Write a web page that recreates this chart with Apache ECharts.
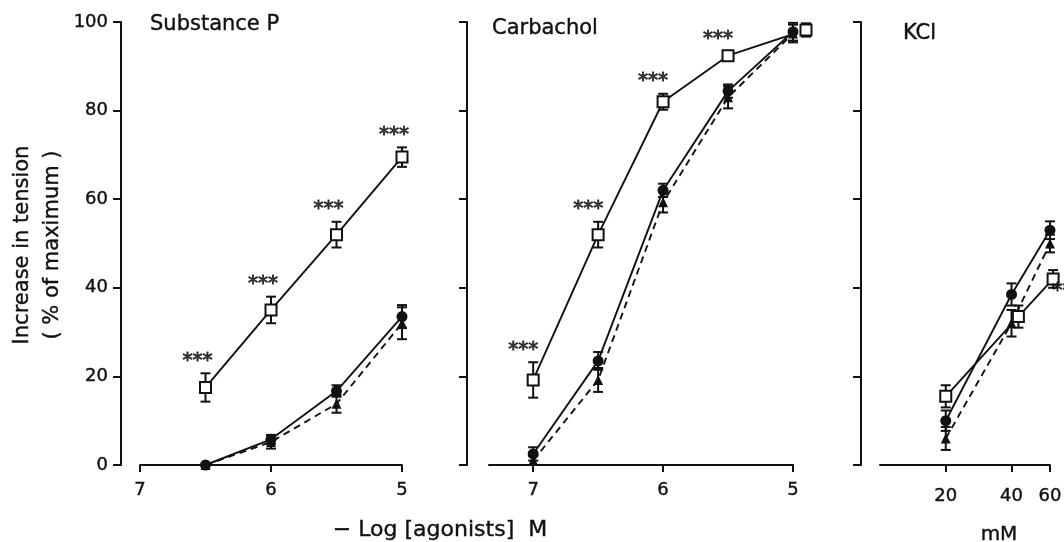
<!DOCTYPE html>
<html>
<head>
<meta charset="utf-8">
<script src="https://cdn.jsdelivr.net/npm/echarts@6/dist/echarts.min.js"></script>
<style>
  html, body { margin: 0; padding: 0; background: #fff; }
  #chart { width: 1064px; height: 542px; }
</style>
</head>
<body>
<div id="chart"></div>
<script>
// Substance P  (-log M)
var spX = [6.5, 6, 5.5, 5];
var spSquare = [17.5, 35, 52, 69.5];
var spSquareErr = [3.2, 3, 2.9, 2.2];
var spCircle = [0, 5.8, 16.7, 33.5];
var spCircleErr = [0, 1, 1.3, 2.6];
var spTriangle = [0, 5.2, 13.8, 32];
var spTriangleErr = [0, 1.5, 2, 3.6];
var spSig = ['***', '***', '***', '***'];

// Carbachol  (-log M), last open square sits a little to the right
var cbX = [7, 6.5, 6, 5.5, 5];
var cbSquareX = [7, 6.5, 6, 5.5, 4.9];
var cbSquare = [19.2, 52, 82, 92.4, 98.2];
var cbSquareErr = [4, 2.9, 1.8, 1, 1.5];
var cbCircle = [2.5, 23.5, 62, 84.4, 97.8];
var cbCircleErr = [1.5, 2, 1.5, 1.5, 2];
var cbTriangle = [1, 19.2, 59.3, 83, 97.4];
var cbTriangleErr = [1, 2.7, 2.3, 2.5, 2];
var cbSig = ['***', '***', '***', '***', ''];

// KCl  (mM)
var kclX = [20, 40, 60];
var kclSquareX = [20, 43, 62];
var kclSquare = [15.5, 33.5, 42];
var kclSquareErr = [2.5, 2.5, 2];
var kclCircle = [10, 38.5, 53];
var kclCircleErr = [2.3, 2.5, 2];
var kclTriangle = [6, 32, 50];
var kclTriangleErr = [2.6, 3, 2];
var kclSig = ['', '', '**'];

var logTicks = [7, 6, 5];
var mmTicks = [20, 40, 60];

var INK = '#111';
var FONT = 'DejaVu Sans';

function pts(xs, ys) {
    return xs.map(function (x, i) { return [x, ys[i]]; });
}
function bars(xs, ys, es) {
    return xs.map(function (x, i) { return [x, ys[i] - es[i], ys[i] + es[i]]; });
}

// error bar drawn through the axes' own coord()
function renderErr(params, api) {
    var x = api.value(0);
    if (api.value(1) === api.value(2)) return null;
    var lo = api.coord([x, api.value(1)]);
    var hi = api.coord([x, api.value(2)]);
    var w = 5;
    var st = { stroke: INK, lineWidth: 2 };
    return {
        type: 'group',
        children: [
            { type: 'line', shape: { x1: hi[0], y1: hi[1], x2: lo[0], y2: lo[1] }, style: st },
            { type: 'line', shape: { x1: hi[0] - w, y1: hi[1], x2: hi[0] + w, y2: hi[1] }, style: st },
            { type: 'line', shape: { x1: lo[0] - w, y1: lo[1], x2: lo[0] + w, y2: lo[1] }, style: st }
        ]
    };
}

function errSeries(idx, data) {
    return {
        type: 'custom', xAxisIndex: idx, yAxisIndex: idx,
        data: data, renderItem: renderErr, z: 3, silent: true, clip: false,
        encode: { x: 0, y: [1, 2] }
    };
}

function lineSeries(idx, data, kind) {
    var s = {
        type: 'line', xAxisIndex: idx, yAxisIndex: idx, data: data,
        symbolSize: 11, clip: false, z: 4, silent: true,
        lineStyle: { color: INK, width: 1.9 },
        itemStyle: { color: INK }
    };
    if (kind === 'square') {
        s.symbol = 'rect';
        s.symbolSize = 11;
        s.itemStyle = { color: '#fff', borderColor: INK, borderWidth: 2 };
        s.z = 5;
    } else if (kind === 'circle') {
        s.symbol = 'circle';
    } else {
        s.symbol = 'triangle';
        s.symbolSize = 10;
        s.lineStyle.type = [7, 5];
    }
    return s;
}

// significance stars, hung on the end of a square's error bar
function starSeries(idx, xs, ys, es, sig, pos, off) {
    return {
        type: 'scatter', xAxisIndex: idx, yAxisIndex: idx, clip: false,
        data: bars(xs, ys, es).map(function (d, i) { return { value: [d[0], pos === 'top' ? d[2] : d[1]], sig: sig[i] }; }),
        symbolSize: 1, itemStyle: { color: 'rgba(0,0,0,0)' }, z: 6, silent: true,
        label: {
            show: true, position: pos, distance: 2, offset: off,
            fontFamily: FONT, fontSize: 20, fontWeight: 'normal', color: INK,
            textBorderColor: INK, textBorderWidth: 0.9,
            formatter: function (p) { return p.data.sig; }
        }
    };
}

var labelStyle = { fontFamily: FONT, fontSize: 18, color: INK, textBorderColor: INK, textBorderWidth: 0.4 };

function yAxisOf(idx, offset, labels) {
    return {
        type: 'value', gridIndex: idx, min: 0, max: 100, interval: 20, offset: offset,
        axisLine: { show: true, lineStyle: { color: INK, width: 2 } },
        axisTick: { show: true, length: 8, lineStyle: { color: INK, width: 2 } },
        axisLabel: Object.assign({ show: labels, margin: 13 }, labelStyle),
        splitLine: { show: false }
    };
}

function xAxisLine() {
    return { show: true, onZero: false, lineStyle: { color: INK, width: 2 } };
}

var titleStyle = { fontFamily: FONT, fontSize: 21, fontWeight: 'normal', color: INK, textBorderColor: INK, textBorderWidth: 0.4 };

var chart = echarts.init(document.getElementById('chart'), null, { renderer: 'canvas' });

chart.setOption({
    backgroundColor: '#fff',
    animation: false,
    title: [
        { text: 'Substance P', left: 150, top: 14, padding: 0, textStyle: titleStyle },
        { text: 'Carbachol', left: 492, top: 18, padding: 0, textStyle: titleStyle },
        { text: 'KCl', left: 903, top: 23, padding: 0, textStyle: titleStyle }
    ],
    grid: [
        { left: 140, right: 662, top: 22, bottom: 77, outerBoundsMode: 'none' },
        { left: 489, right: 271, top: 22, bottom: 77, outerBoundsMode: 'none' },
        { left: 880, right: 14, top: 22, bottom: 77, outerBoundsMode: 'none' }
    ],
    xAxis: [
        {
            type: 'value', gridIndex: 0, min: 5, max: 7, interval: 1, inverse: true,
            axisLine: xAxisLine(),
            axisTick: { show: true, length: 7, lineStyle: { color: INK, width: 2 } },
            axisLabel: Object.assign({ margin: 16 }, labelStyle),
            splitLine: { show: false }
        },
        {
            type: 'value', gridIndex: 1, min: 5, max: 7.34, inverse: true,
            axisLine: xAxisLine(),
            axisTick: { show: true, length: 7, customValues: logTicks, lineStyle: { color: INK, width: 2 } },
            axisLabel: Object.assign({ margin: 16, customValues: logTicks }, labelStyle),
            splitLine: { show: false }
        },
        {
            type: 'log', logBase: 10, gridIndex: 2, min: 10, max: 60,
            axisLine: xAxisLine(),
            axisTick: { show: true, length: 7, customValues: mmTicks, lineStyle: { color: INK, width: 2 } },
            axisLabel: Object.assign({ margin: 22, customValues: mmTicks }, labelStyle),
            splitLine: { show: false }, minorSplitLine: { show: false }
        }
    ],
    yAxis: [yAxisOf(0, 19, true), yAxisOf(1, 22, false), yAxisOf(2, 19, false)],
    graphic: [
        { type: 'text', x: 23, y: 245, rotation: Math.PI / 2, style: { text: 'Increase in tension', font: '21px "DejaVu Sans"', fill: INK, stroke: INK, lineWidth: 0.4, textAlign: 'center', textVerticalAlign: 'middle' } },
        { type: 'text', x: 53, y: 245, rotation: Math.PI / 2, style: { text: '( % of maximum )', font: '21px "DejaVu Sans"', fill: INK, stroke: INK, lineWidth: 0.4, textAlign: 'center', textVerticalAlign: 'middle' } },
        { type: 'text', x: 440, y: 530, style: { text: '\u2212 Log [agonists]  M', font: '22px "DejaVu Sans"', fill: INK, stroke: INK, lineWidth: 0.4, textAlign: 'center', textVerticalAlign: 'middle' } },
        { type: 'text', x: 999, y: 535, style: { text: 'mM', font: '20px "DejaVu Sans"', fill: INK, stroke: INK, lineWidth: 0.4, textAlign: 'center', textVerticalAlign: 'middle' } }
    ],
    series: [
        // Substance P
        errSeries(0, bars(spX, spTriangle, spTriangleErr)),
        errSeries(0, bars(spX, spCircle, spCircleErr)),
        errSeries(0, bars(spX, spSquare, spSquareErr)),
        lineSeries(0, pts(spX, spTriangle), 'triangle'),
        lineSeries(0, pts(spX, spCircle), 'circle'),
        lineSeries(0, pts(spX, spSquare), 'square'),
        starSeries(0, spX, spSquare, spSquareErr, spSig, 'top', [-8, 0]),

        // Carbachol
        errSeries(1, bars(cbX, cbTriangle, cbTriangleErr)),
        errSeries(1, bars(cbX, cbCircle, cbCircleErr)),
        errSeries(1, bars(cbSquareX, cbSquare, cbSquareErr)),
        lineSeries(1, pts(cbX, cbTriangle), 'triangle'),
        lineSeries(1, pts(cbX, cbCircle), 'circle'),
        lineSeries(1, pts(cbSquareX, cbSquare), 'square'),
        starSeries(1, cbSquareX, cbSquare, cbSquareErr, cbSig, 'top', [-10, 0]),

        // KCl
        errSeries(2, bars(kclX, kclTriangle, kclTriangleErr)),
        errSeries(2, bars(kclX, kclCircle, kclCircleErr)),
        errSeries(2, bars(kclSquareX, kclSquare, kclSquareErr)),
        lineSeries(2, pts(kclX, kclTriangle), 'triangle'),
        lineSeries(2, pts(kclX, kclCircle), 'circle'),
        lineSeries(2, pts(kclSquareX, kclSquare), 'square'),
        starSeries(2, kclX, kclSquare, kclSquareErr, kclSig, 'right', [0, 3])
    ]
});
</script>
</body>
</html>
